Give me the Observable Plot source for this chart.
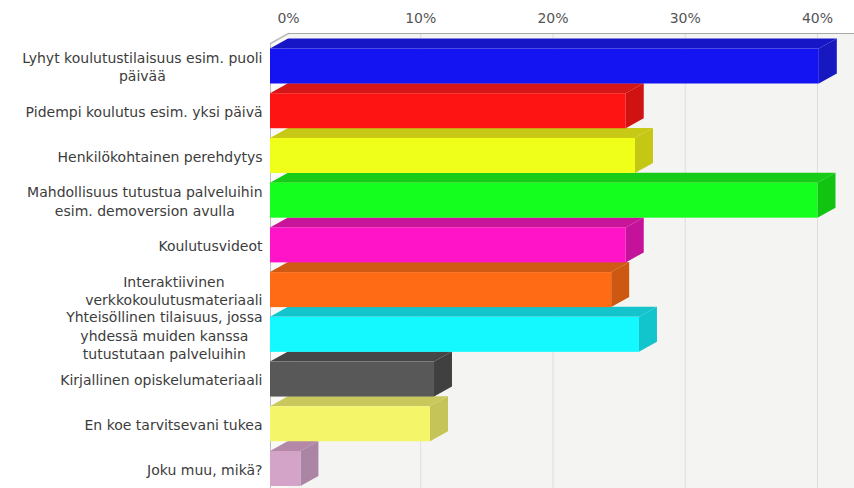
<!DOCTYPE html>
<html><head><meta charset="utf-8">
<script src="https://cdn.jsdelivr.net/npm/d3@7"></script>
<script src="https://cdn.jsdelivr.net/npm/@observablehq/plot@0.6"></script>
<style>html,body{margin:0;padding:0;background:#fff} svg{display:block}</style>
</head><body><div id="chart"></div>
<script>
const categories = [
  "Lyhyt koulutustilaisuus esim. puoli\npäivää",
  "Pidempi koulutus esim. yksi päivä",
  "Henkilökohtainen perehdytys",
  "Mahdollisuus tutustua palveluihin\nesim. demoversion avulla",
  "Koulutusvideot",
  "Interaktiivinen\nverkkokoulutusmateriaali",
  "Yhteisöllinen tilaisuus, jossa\nyhdessä muiden kanssa\ntutustutaan palveluihin",
  "Kirjallinen opiskelumateriaali",
  "En koe tarvitsevani tukea",
  "Joku muu, mikä?"
];
const values = [41.5, 26.9, 27.6, 41.4, 26.9, 25.8, 27.9, 12.4, 12.1, 2.3];
const frontColors = ["#1414f2", "#ff1414", "#f0ff1a", "#14ff1e", "#ff14c8", "#ff6a14", "#14f8ff", "#585858", "#f5f56a", "#d4a4c8"];
const topColors   = ["#1616c6", "#d41616", "#c8c816", "#16cc16", "#c81498", "#d05a14", "#14c4cc", "#464646", "#c8c85c", "#b488a8"];
const sideColors  = ["#1818c0", "#d01212", "#c4c814", "#12c412", "#c4129a", "#cc5812", "#12c4cc", "#404040", "#c4c458", "#ac84a4"];
const tickValues = [0, 10, 20, 30, 40];

const W = 854, H = 488, ML = 288, MT = 33;
const xMax = 42.8;
const pxPerX = (W - ML) / xMax;
const rowFirst = 66, rowLast = 468.5;
const pxPerRow = (rowLast - rowFirst) / (categories.length - 1);
const depthX = 18 / pxPerX, depthY = 10 / pxPerRow;
const half = 17.5 / pxPerRow;
const yAt = px => (px - rowFirst) / pxPerRow;

const bars = categories.map((c, i) => ({i, v: values[i]}));
const topPts = bars.flatMap(b => [
  {i: b.i, y: b.i - half - depthY, x1: 0, x2: b.v, fill: topColors[b.i]},
  {i: b.i, y: b.i - half, x1: -depthX, x2: b.v - depthX, fill: topColors[b.i]}
]);
const sidePts = bars.flatMap(b => [
  {i: b.i, x: b.v - depthX, y1: b.i + half, y2: b.i - half, fill: sideColors[b.i]},
  {i: b.i, x: b.v, y1: b.i + half - depthY, y2: b.i - half - depthY, fill: sideColors[b.i]}
]);
const wallPts = [
  {x: -depthX, y1: yAt(H), y2: yAt(MT) + depthY},
  {x: 0, y1: yAt(H), y2: yAt(MT)}
];

const ctx = document.createElement("canvas").getContext("2d");
ctx.font = "14px 'DejaVu Sans'";
const labelMarks = categories.map((c, i) => {
  const w = d3.max(c.split("\n"), l => ctx.measureText(l).width);
  return Plot.text([i], {
    y: d => d, text: d => categories[d], frameAnchor: "left",
    textAnchor: "middle", dx: -26 - w / 2, lineHeight: 1.3,
    fontSize: 14, fill: "#3c3c3c"
  });
});

const chart = Plot.plot({
  width: W, height: H,
  marginLeft: ML, marginRight: 0, marginTop: MT, marginBottom: 0,
  style: {fontFamily: "'DejaVu Sans', sans-serif", background: "#fff"},
  x: {domain: [0, xMax], axis: null},
  y: {domain: [0, categories.length - 1], range: [rowFirst, rowLast], axis: null},
  color: {type: "identity"},
  marks: [
    Plot.frame({fill: "#f4f5f2", stroke: null}),
    Plot.ruleX(tickValues.slice(1), {stroke: "#dedfdb"}),
    Plot.areaY(wallPts, {x: "x", y1: "y1", y2: "y2", fill: "#f9f9f8"}),
    Plot.lineY(wallPts, {x: "x", y: "y2", stroke: "#bdbdbd"}),
    Plot.ruleX([-depthX], {y1: wallPts[0].y1, y2: wallPts[0].y2, stroke: "#bdbdbd"}),
    Plot.frame({anchor: "top", stroke: "#a8a8a8"}),
    Plot.frame({anchor: "bottom", stroke: "#c8c8c8"}),
    Plot.axisX({anchor: "top", ticks: tickValues, tickFormat: d => d + "%", tickSize: 0, tickPadding: 11, fontSize: 14, fill: "#555"}),
    Plot.areaX(topPts, {y: "y", x1: "x1", x2: "x2", z: "i", fill: "fill"}),
    Plot.areaY(sidePts, {x: "x", y1: "y1", y2: "y2", z: "i", fill: "fill"}),
    Plot.rect(bars, {x1: -depthX, x2: d => d.v - depthX, y1: d => d.i - half, y2: d => d.i + half, fill: d => frontColors[d.i]}),
    ...labelMarks
  ]
});
document.getElementById("chart").appendChild(chart);
</script>
</body></html>
